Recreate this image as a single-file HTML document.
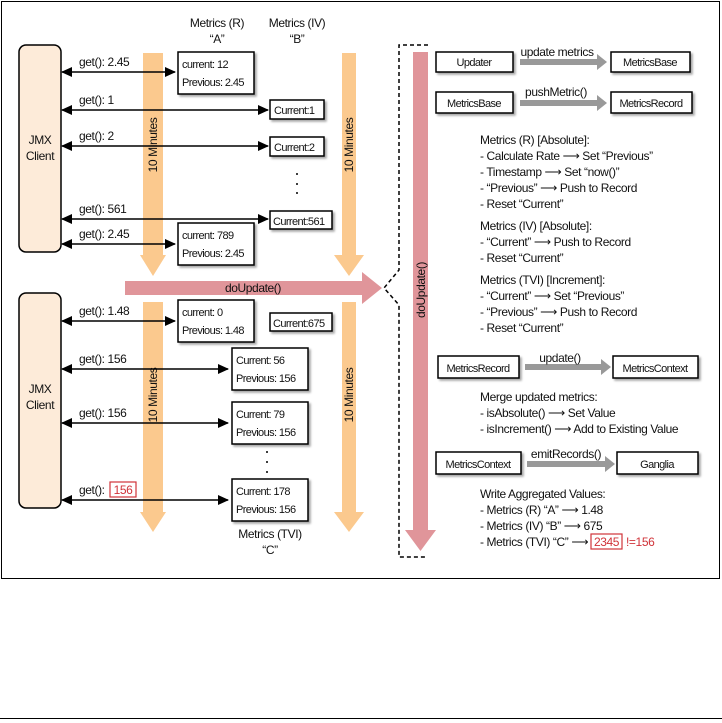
<!DOCTYPE html>
<html><head><meta charset="utf-8"><style>
html,body{margin:0;padding:0;background:#fff;}
svg{display:block;}
text{font-family:"Liberation Sans Narrow","Liberation Sans",sans-serif;font-size:12px;fill:#111;letter-spacing:-0.4px;}
.s text{font-size:11px;letter-spacing:-0.6px;}
</style></head><body>
<svg width="722" height="723" viewBox="0 0 722 723" xmlns="http://www.w3.org/2000/svg">
<defs>
<marker id="ah" markerWidth="11" markerHeight="10" refX="10" refY="5" orient="auto" markerUnits="userSpaceOnUse"><path d="M0,0 L11,5 L0,10 z" fill="#000"/></marker>
<marker id="at" markerWidth="11" markerHeight="10" refX="1" refY="5" orient="auto" markerUnits="userSpaceOnUse"><path d="M11,0 L0,5 L11,10 z" fill="#000"/></marker>
<filter id="sh" x="-10%" y="-10%" width="130%" height="140%"><feDropShadow dx="2" dy="2" stdDeviation="1" flood-color="#000" flood-opacity="0.35"/></filter>
</defs>
<rect x="1.5" y="1.5" width="718" height="577" fill="none" stroke="#000" stroke-width="1"/>
<line x1="0" y1="718.5" x2="722" y2="718.5" stroke="#000"/>

<rect x="19" y="45" width="42" height="207" rx="7" fill="#fdebd9" stroke="#000" stroke-width="1.5"/>
<text x="40" y="144" text-anchor="middle">JMX</text><text x="40" y="160" text-anchor="middle">Client</text>
<rect x="19" y="293" width="42" height="215" rx="7" fill="#fdebd9" stroke="#000" stroke-width="1.5"/>
<text x="40" y="393" text-anchor="middle">JMX</text><text x="40" y="409" text-anchor="middle">Client</text>

<g fill="#fbc98e">
<path d="M143,53 H163 V255 H166 L153,276 L140,255 H143 Z"/>
<path d="M342,53 H356 V255 H364 L349,276 L334,255 H342 Z"/>
<path d="M143,302 H163 V512 H166 L153,532 L140,512 H143 Z"/>
<path d="M342,302 H356 V512 H364 L349,532 L334,512 H342 Z"/>
</g>
<text transform="translate(157,145) rotate(-90)" text-anchor="middle">10 Minutes</text>
<text transform="translate(353,145) rotate(-90)" text-anchor="middle">10 Minutes</text>
<text transform="translate(157,395) rotate(-90)" text-anchor="middle">10 Minutes</text>
<text transform="translate(353,395) rotate(-90)" text-anchor="middle">10 Minutes</text>

<path d="M125,281 H362 V272 L382,288 L362,304 V295 H125 Z" fill="#e0959a"/>
<text x="253" y="292" text-anchor="middle">doUpdate()</text>

<text x="217" y="27" text-anchor="middle">Metrics (R)</text><text x="217" y="43" text-anchor="middle">“A”</text>
<text x="297" y="27" text-anchor="middle">Metrics (IV)</text><text x="297" y="43" text-anchor="middle">“B”</text>
<text x="270" y="538" text-anchor="middle">Metrics (TVI)</text><text x="270" y="554" text-anchor="middle">“C”</text>

<g stroke="#000" stroke-width="1.6" marker-start="url(#at)" marker-end="url(#ah)">
<line x1="62" y1="72" x2="175" y2="72"/>
<line x1="62" y1="110" x2="268" y2="110"/>
<line x1="62" y1="146" x2="268" y2="146"/>
<line x1="62" y1="219" x2="268" y2="219"/>
<line x1="62" y1="244" x2="175" y2="244"/>
<line x1="62" y1="321" x2="175" y2="321"/>
<line x1="62" y1="369" x2="228" y2="369"/>
<line x1="62" y1="423" x2="228" y2="423"/>
<line x1="62" y1="500" x2="228" y2="500"/>
</g>
<text x="79" y="66">get(): 2.45</text>
<text x="79" y="104">get(): 1</text>
<text x="79" y="140">get(): 2</text>
<text x="79" y="213">get(): 561</text>
<text x="79" y="238">get(): 2.45</text>
<text x="79" y="315">get(): 1.48</text>
<text x="79" y="363">get(): 156</text>
<text x="79" y="417">get(): 156</text>
<text x="79" y="494">get():</text>
<rect x="110" y="482" width="26" height="15" fill="#fff" stroke="#d0343a" stroke-width="1.2"/>
<text x="123" y="494" text-anchor="middle" style="fill:#d0343a">156</text>

<g fill="#fff" stroke="#000" stroke-width="1.5" filter="url(#sh)">
<rect x="178" y="52" width="76" height="42"/>
<rect x="270" y="100" width="54" height="19"/>
<rect x="270" y="137" width="54" height="19"/>
<rect x="270" y="211" width="62" height="18"/>
<rect x="178" y="223" width="76" height="42"/>
<rect x="178" y="300" width="76" height="42"/>
<rect x="270" y="313" width="62" height="18"/>
<rect x="232" y="348" width="76" height="42"/>
<rect x="232" y="402" width="76" height="42"/>
<rect x="232" y="479" width="76" height="42"/>
</g>
<g class="s">
<text x="182" y="68">current: 12</text><text x="182" y="86">Previous: 2.45</text>
<text x="274" y="114">Current:1</text>
<text x="274" y="151">Current:2</text>
<text x="273" y="225">Current:561</text>
<text x="182" y="239">current: 789</text><text x="182" y="257">Previous: 2.45</text>
<text x="182" y="316">current: 0</text><text x="182" y="334">Previous: 1.48</text>
<text x="273" y="327">Current:675</text>
<text x="236" y="364">Current: 56</text><text x="236" y="382">Previous: 156</text>
<text x="236" y="418">Current: 79</text><text x="236" y="436">Previous: 156</text>
<text x="236" y="495">Current: 178</text><text x="236" y="513">Previous: 156</text>
</g>
<g fill="#000">
<circle cx="297" cy="174" r="1"/><circle cx="297" cy="184" r="1"/><circle cx="297" cy="193" r="1"/>
<circle cx="267" cy="452" r="1"/><circle cx="267" cy="462" r="1"/><circle cx="267" cy="472" r="1"/>
</g>

<path d="M428,45 H399 V270 L384,288 L399,305 V557 H425" fill="none" stroke="#000" stroke-width="1.5" stroke-dasharray="4,3"/>
<path d="M413,52 H428 V530 H436 L420.5,551 L405,530 H413 Z" fill="#e0959a"/>
<text transform="translate(425,290) rotate(-90)" text-anchor="middle">doUpdate()</text>

<g fill="#fff" stroke="#000" stroke-width="1.5" filter="url(#sh)">
<rect x="436" y="52" width="77" height="20"/>
<rect x="611" y="52" width="79" height="20"/>
<rect x="436" y="92" width="77" height="21"/>
<rect x="611" y="92" width="81" height="21"/>
<rect x="438" y="356" width="81" height="22"/>
<rect x="613" y="356" width="85" height="22"/>
<rect x="436" y="452" width="85" height="22"/>
<rect x="617" y="452" width="81" height="22"/>
</g>
<g fill="#999">
<path d="M520,59 H597 V54 L607,62 L597,70 V65 H520 Z"/>
<path d="M520,100 H597 V95 L607,103 L597,111 V106 H520 Z"/>
<path d="M525,364 H601 V359 L611,367 L601,375 V370 H525 Z"/>
<path d="M527,461 H605 V456 L615,464 L605,472 V467 H527 Z"/>
</g>
<g text-anchor="middle" class="s">
<text x="474" y="66">Updater</text><text x="650" y="66">MetricsBase</text>
<text x="474" y="107">MetricsBase</text><text x="651" y="107">MetricsRecord</text>
<text x="478" y="372">MetricsRecord</text><text x="655" y="372">MetricsContext</text>
<text x="478" y="468">MetricsContext</text><text x="657" y="468">Ganglia</text>
</g>
<g text-anchor="middle">
<text x="557" y="56">update metrics</text>
<text x="556" y="96">pushMetric()</text>
<text x="560" y="362">update()</text>
<text x="566" y="458">emitRecords()</text>
</g>
<g>
<text x="480" y="144">Metrics (R) [Absolute]:</text>
<text x="480" y="160">- Calculate Rate ⟶ Set “Previous”</text>
<text x="480" y="176">- Timestamp ⟶ Set “now()”</text>
<text x="480" y="192">- “Previous” ⟶ Push to Record</text>
<text x="480" y="208">- Reset “Current”</text>
<text x="480" y="230">Metrics (IV) [Absolute]:</text>
<text x="480" y="246">- “Current” ⟶ Push to Record</text>
<text x="480" y="262">- Reset “Current”</text>
<text x="480" y="284">Metrics (TVI) [Increment]:</text>
<text x="480" y="300">- “Current” ⟶ Set “Previous”</text>
<text x="480" y="316">- “Previous” ⟶ Push to Record</text>
<text x="480" y="332">- Reset “Current”</text>
<text x="480" y="401">Merge updated metrics:</text>
<text x="480" y="417">- isAbsolute() ⟶ Set Value</text>
<text x="480" y="433">- isIncrement() ⟶ Add to Existing Value</text>
<text x="480" y="498">Write Aggregated Values:</text>
<text x="480" y="514">- Metrics (R) “A” ⟶ 1.48</text>
<text x="480" y="530">- Metrics (IV) “B” ⟶ 675</text>
<text x="480" y="546">- Metrics (TVI) “C” ⟶</text>
</g>
<rect x="591" y="534" width="31" height="15" fill="#fff" stroke="#d0343a" stroke-width="1.2"/>
<text x="606.5" y="546" text-anchor="middle" style="fill:#d0343a">2345</text>
<text x="626" y="546" style="fill:#d0343a">!=156</text>
</svg>
</body></html>
